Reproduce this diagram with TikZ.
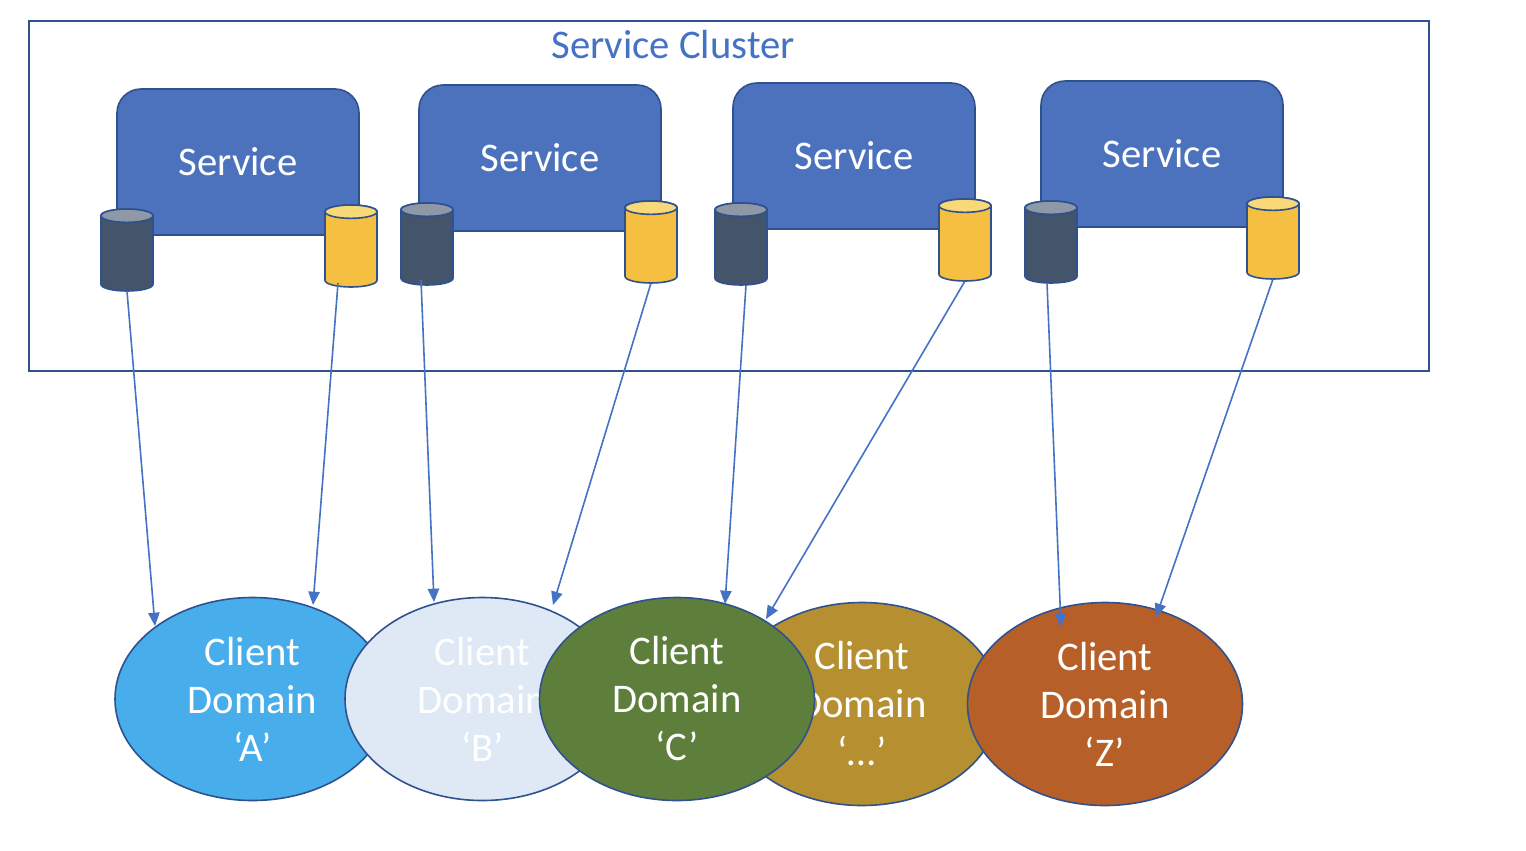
\documentclass[tikz,border=0pt]{standalone}
\usepackage{fontspec}
\setmainfont{Carlito}
\usetikzlibrary{arrows.meta,shapes.geometric}
\definecolor{svcfill}{HTML}{4C72BE}
\definecolor{edgeblue}{HTML}{2F528F}
\definecolor{linkblue}{HTML}{4472C4}
\definecolor{darkbody}{HTML}{44546A}
\definecolor{darktop}{HTML}{8F98A6}
\definecolor{yelbody}{HTML}{F5BF42}
\definecolor{yeltop}{HTML}{F9D877}
\def\px{0.75pt}
\tikzset{
  x=0.75pt,y=-0.75pt,
  frame/.style={draw=edgeblue,line width=1.1pt,fill=none},
  title/.style={text=linkblue,font=\fontsize{30.5}{36}\selectfont,inner sep=0pt},
  svc/.style={draw=edgeblue,line width=1.2pt,fill=svcfill,rounded corners=18pt,
    minimum width=242*\px,minimum height=146*\px,inner sep=0pt,text=white,
    font=\fontsize{30.5}{36}\selectfont},
  cylbox/.style={rectangle,minimum width=52*\px,minimum height=82*\px,inner sep=0pt,outer sep=0pt},
  cyledge/.style={draw=edgeblue,line width=1.2pt},
  dom/.style={ellipse,draw=edgeblue,line width=1.2pt,minimum width=275*\px,minimum height=203*\px,
    inner sep=0pt,text=white,align=center,font=\fontsize{30.5}{36}\selectfont},
  link/.style={draw=linkblue,line width=1.2pt,-{Triangle[length=10pt,width=8.5pt]}}
}
% #1 name, #2 centre, #3 body colour, #4 top colour
\newcommand{\drum}[4]{%
  \node[cylbox] (#1) at (#2) {};
  \draw[cyledge,fill=#3] ([yshift=-5pt]#1.north west)
    -- ([yshift=5pt]#1.south west)
    arc[start angle=180,end angle=360,x radius=19.5pt,y radius=5pt]
    -- ([yshift=-5pt]#1.north east)
    arc[start angle=0,end angle=180,x radius=19.5pt,y radius=5pt] -- cycle;
  \draw[cyledge,fill=#4] ([yshift=-5pt]#1.north west)
    arc[start angle=180,end angle=540,x radius=19.5pt,y radius=5pt] -- cycle;
}
\begin{document}
\begin{tikzpicture}
\useasboundingbox[fill=white] (0,0) rectangle (1526,850);
\node[frame,draw,minimum width=1400*\px,minimum height=350*\px,inner sep=0pt] (cluster) at (729,196) {};
\node[title] (clustertitle) at (673,45) {Service Cluster};
\node[svc] (s1) at (238,162) {Service};
\node[svc] (s2) at (540,158) {Service};
\node[svc] (s3) at (854,156) {Service};
\node[svc] (s4) at (1162,154) {Service};
\drum{d1}{127,250}{darkbody}{darktop}
\drum{y1}{351,246}{yelbody}{yeltop}
\drum{d2}{427,244}{darkbody}{darktop}
\drum{y2}{651,242}{yelbody}{yeltop}
\drum{d3}{741,244}{darkbody}{darktop}
\drum{y3}{965,240}{yelbody}{yeltop}
\drum{d4}{1051,242}{darkbody}{darktop}
\drum{y4}{1273,238}{yelbody}{yeltop}
\node[dom,fill={rgb,255:red,71;green,173;blue,235}] (ea) at (252.5,699) {Client\\Domain\\‘A’};
\node[dom,fill={rgb,255:red,222;green,233;blue,245}] (eb) at (482.5,699) {Client\\Domain\\‘B’};
\node[dom,fill={rgb,255:red,181;green,143;blue,48}] (ed) at (862,704) {Client\\Domain\\‘…’};
\node[dom,fill={rgb,255:red,93;green,127;blue,59}] (ec) at (677,699) {Client\\Domain\\‘C’};
\node[dom,fill={rgb,255:red,182;green,95;blue,40}] (ez) at (1105,704) {Client\\Domain\\‘Z’};
\coordinate (ta1) at (155,626);
\coordinate (ta2) at (313,605);
\coordinate (tb1) at (434,602);
\coordinate (tb2) at (553,605);
\coordinate (tc1) at (725,604);
\coordinate (tc2) at (766,619);
\coordinate (tz1) at (1061,627);
\coordinate (tz2) at (1156,617);
\draw[link] (d1.south) -- (ta1);
\draw[link] ([shift={(-13,-4)}]y1.south) -- (ta2);
\draw[link] ([shift={(-6,-5)}]d2.south) -- (tb1);
\draw[link] (y2.south) -- (tb2);
\draw[link] ([shift={(5,0)}]d3.south) -- (tc1);
\draw[link] (y3.south) -- (tc2);
\draw[link] ([shift={(-4,0)}]d4.south) -- (tz1);
\draw[link] (y4.south) -- (tz2);
\end{tikzpicture}
\end{document}
